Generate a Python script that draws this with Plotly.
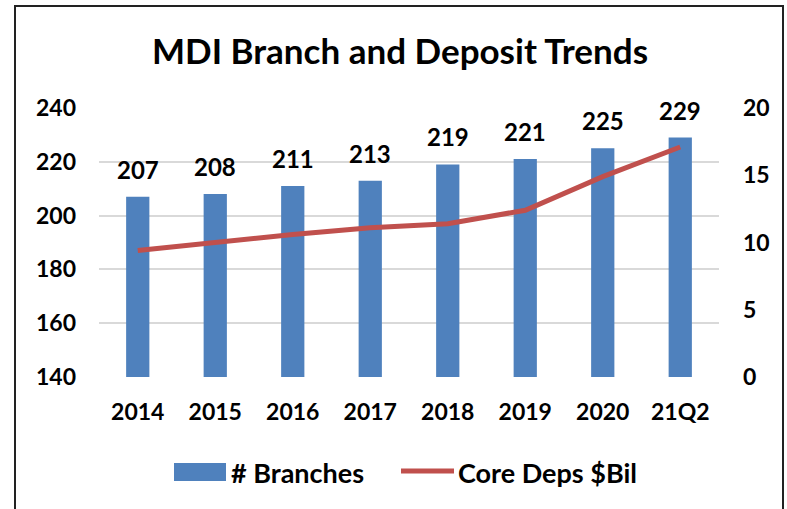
import plotly.graph_objects as go

categories = ["2014", "2015", "2016", "2017", "2018", "2019", "2020", "21Q2"]
branches = [207, 208, 211, 213, 219, 221, 225, 229]
core_deps = [9.4, 10.0, 10.6, 11.1, 11.4, 12.4, 14.9, 17.1]
left_ticks = [140, 160, 180, 200, 220, 240]
right_ticks = [0, 5, 10, 15, 20]

W, H = 787, 509
L, R, T, B = 99, 719, 108, 377  # plot area pixels

FONT = "Lato"
BLUE = "#4F81BD"
RED = "#C0504D"

def px_x(px):
    return (px - L) / (R - L)

def px_y(py):
    return (B - py) / (B - T)

fig = go.Figure()
fig.add_trace(go.Bar(
    x=categories, y=[b - 140 for b in branches], base=140,
    marker=dict(color=BLUE, line=dict(width=0)),
    name="# Branches", showlegend=False, hoverinfo="skip",
))
fig.add_trace(go.Scatter(
    x=categories, y=core_deps, yaxis="y2", mode="lines",
    line=dict(color=RED, width=5),
    name="Core Deps $Bil", showlegend=False, hoverinfo="skip",
))

for i, v in enumerate(branches):
    fig.add_annotation(x=i, y=v, text=str(v), showarrow=False,
                       yanchor="bottom", yshift=11,
                       font=dict(family=FONT, size=24, color="black", weight="bold"))

# Manual legend
fig.add_shape(type="rect", xref="paper", yref="paper",
              x0=px_x(174), x1=px_x(226), y0=px_y(481), y1=px_y(463),
              fillcolor=BLUE, line=dict(width=0))
fig.add_annotation(xref="paper", yref="paper", x=px_x(229), y=px_y(472),
                   text="# Branches", showarrow=False, xanchor="left", yanchor="middle",
                   font=dict(family=FONT, size=27, color="black", weight="bold"))
fig.add_shape(type="line", xref="paper", yref="paper",
              x0=px_x(401), x1=px_x(454), y0=px_y(471), y1=px_y(471),
              line=dict(color=RED, width=5))
fig.add_annotation(xref="paper", yref="paper", x=px_x(456), y=px_y(472),
                   text="Core Deps $Bil", showarrow=False, xanchor="left", yanchor="middle",
                   font=dict(family=FONT, size=27, color="black", weight="bold"))

# Outer frame
fig.add_shape(type="rect", xref="paper", yref="paper",
              x0=px_x(15), x1=px_x(783), y0=px_y(520), y1=px_y(6),
              line=dict(color="#222222", width=2), fillcolor="rgba(0,0,0,0)", layer="above")

tickfont = dict(family=FONT, size=23, color="black", weight="bold")
fig.update_layout(
    width=W, height=H,
    margin=dict(l=L, r=W - R, t=T, b=H - B, autoexpand=False),
    paper_bgcolor="white", plot_bgcolor="white",
    title=dict(text="MDI Branch and Deposit Trends", x=400 / W, xref="container", xanchor="center",
               y=1 - 52 / H, yanchor="middle",
               font=dict(family=FONT, size=35, color="black", weight="bold")),
    bargap=0.7,
    xaxis=dict(type="category", range=[-0.5, 7.5], showgrid=False, showline=False, ticks="",
               tickfont=tickfont, ticklabelstandoff=19),
    yaxis=dict(range=[140, 240], tickvals=left_ticks, showgrid=True,
               gridcolor="#D9D9D9", gridwidth=1.5, zeroline=False, showline=False,
               ticks="", tickfont=tickfont, ticklabelstandoff=22),
    yaxis2=dict(range=[0, 20], tickvals=right_ticks, overlaying="y", side="right",
                showgrid=False, zeroline=False, showline=False, ticks="",
                tickfont=tickfont, ticklabelstandoff=23),
    showlegend=False,
)

fig.write_html("out.html", config={"displayModeBar": False},
               post_script="document.body.style.margin='0';")
